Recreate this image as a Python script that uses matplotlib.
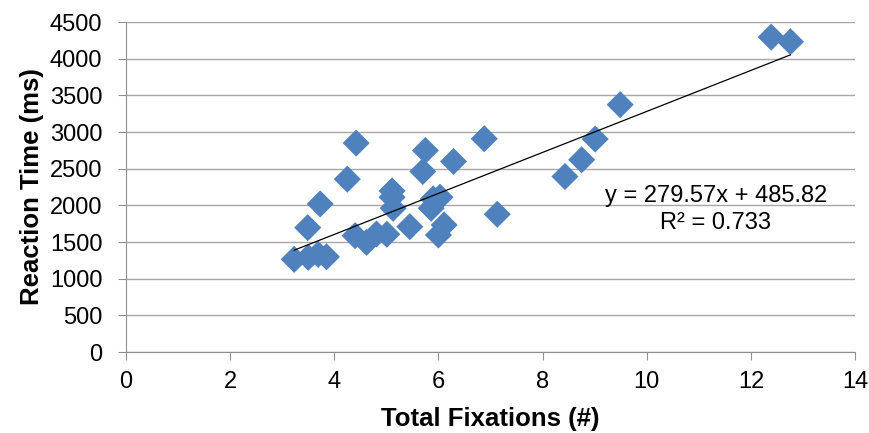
import numpy as np
import matplotlib.pyplot as plt

plt.rcParams['font.family'] = ['Liberation Sans', 'DejaVu Sans']

# total fixations (#) and reaction time (ms) per trial
fixations = [3.23, 3.50, 3.69, 3.85, 3.49, 3.73, 4.25, 4.42, 4.40, 4.62,
             4.81, 5.01, 5.45, 5.11, 5.11, 5.13, 5.70, 5.75, 6.29, 6.88,
             5.86, 5.90, 6.03, 6.11, 6.00, 7.13, 12.39, 12.76, 9.49, 9.01,
             8.75, 8.43]
reaction = [1264, 1291, 1332, 1299, 1696, 2020, 2358, 2850, 1587, 1496,
            1610, 1606, 1710, 2198, 2112, 1961, 2462, 2749, 2599, 2909,
            1961, 2089, 2112, 1733, 1596, 1879, 4295, 4232, 3374, 2905,
            2622, 2394]

slope, intercept = 279.57, 485.82
r2 = 0.733

x = np.array(fixations)
y = np.array(reaction)

fig = plt.figure(figsize=(8.7, 4.33), dpi=100)
ax = fig.add_axes([0.1448, 0.187, 0.838, 0.762])

ax.scatter(x, y, marker='D', s=190, color='#4F81BD', edgecolors='none', zorder=3)

xl = np.array([x.min(), x.max()])
ax.plot(xl, slope * xl + intercept, color='black', lw=0.9, zorder=4)

ax.set_xlim(0, 14)
ax.set_ylim(0, 4500)
ax.set_xticks(range(0, 15, 2))
ax.set_yticks(range(0, 4501, 500))
ax.yaxis.grid(True, color='#A6A6A6', lw=1.0)
ax.set_axisbelow(True)
for s in ['top', 'right']:
    ax.spines[s].set_visible(False)
for s in ['left', 'bottom']:
    ax.spines[s].set_color('#909090')
ax.tick_params(axis='both', direction='out', length=6, color='#909090',
               labelsize=17)
ax.tick_params(axis='x', pad=8)
ax.tick_params(axis='y', pad=11)

ax.set_xlabel('Total Fixations (#)', fontsize=18.5, fontweight='bold', labelpad=10)
ax.set_ylabel('Reaction Time (ms)', fontsize=18.5, fontweight='bold', labelpad=4)

ax.text(11.33, 2130, 'y = {:.2f}x + {:.2f}'.format(slope, intercept),
        fontsize=17, ha='center', va='center')
ax.text(11.33, 1760, 'R² = {}'.format(r2), fontsize=17, ha='center', va='center')

plt.savefig('out.png', dpi=100)
